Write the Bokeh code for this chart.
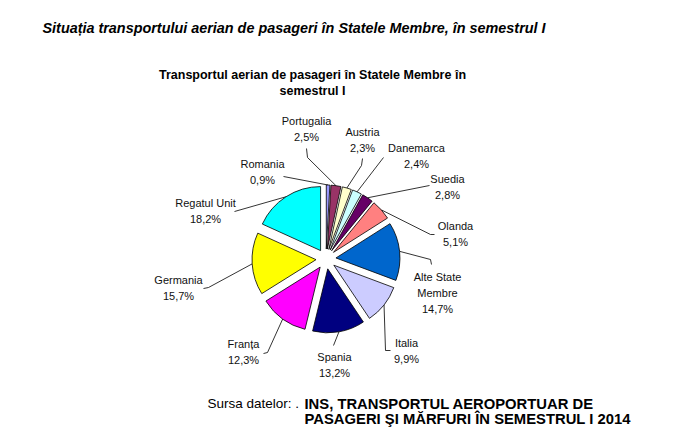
import math
from bokeh.plotting import figure
from bokeh.models import Range1d, ColumnDataSource
from bokeh.core.properties import value
from bokeh.embed import file_html
from bokeh.resources import INLINE

# ---- data ----
countries = ["Romania", "Portugalia", "Austria", "Danemarca", "Suedia", "Olanda",
             "Alte State Membre", "Italia", "Spania", "Franța", "Germania", "Regatul Unit"]
shares = [0.9, 2.5, 2.3, 2.4, 2.8, 5.1, 14.7, 9.9, 13.2, 12.3, 15.7, 18.2]
colors = ["#9999FF", "#993366", "#FFFFCC", "#CCFFFF", "#660066", "#FF8080",
          "#0066CC", "#CCCCFF", "#000080", "#FF00FF", "#FFFF00", "#00FFFF"]

main_title = "Situația transportului aerian de pasageri în Statele Membre, în semestrul I"
chart_title = ["Transportul aerian de pasageri în Statele Membre în", "semestrul I"]
source_label = "Sursa datelor: ."
source_text = ["INS, TRANSPORTUL AEROPORTUAR DE", "PASAGERI ŞI MĂRFURI ÎN SEMESTRUL I 2014"]

# ---- layout (screen pixel coordinates) ----
W, H = 670, 427
FONT = "Liberation Sans"

def sy(y):
    return 443 - y

cx, cy = 325.5, sy(258.5)
R = 64
EXPLODE = 10

name_lines = {"Alte State Membre": ["Alte State", "Membre"]}
label_pos = {
    "Romania": (262, 163), "Portugalia": (306, 120), "Austria": (362, 131),
    "Danemarca": (416, 147), "Suedia": (447, 178), "Olanda": (455, 225),
    "Alte State Membre": (437, 276), "Italia": (406, 342), "Spania": (334, 356),
    "Franța": (243, 343), "Germania": (178, 279), "Regatul Unit": (205, 202),
}
leader_pts = {
    "Romania": [(283, 176)],
    "Portugalia": [(307, 157), (306, 148)],
    "Austria": [(361, 165), (362, 158)],
    "Danemarca": [(383, 157)],
    "Suedia": [(429, 185)],
    "Olanda": [(430, 234), (434, 234)],
    "Alte State Membre": [(430, 259), (431, 264)],
    "Italia": [(385, 350), (390, 350)],
    "Spania": [(333, 345)],
    "Franța": [(267, 352), (263, 353)],
    "Germania": [(208, 287), (203, 288)],
    "Regatul Unit": [(234, 211)],
}

p = figure(width=W, height=H, output_backend="svg", toolbar_location=None,
           x_range=Range1d(0, W), y_range=Range1d(443 - H, 443),
           min_border=0, outline_line_color=None)
p.axis.visible = False
p.grid.visible = False
p.background_fill_color = "white"

total = sum(shares)
starts, ends, xs, ys, mids = [], [], [], [], []
cum = 0.0
for v in shares:
    a0 = math.pi / 2 - 2 * math.pi * cum / total
    cum += v
    a1 = math.pi / 2 - 2 * math.pi * cum / total
    m = (a0 + a1) / 2
    starts.append(a1)
    ends.append(a0)
    mids.append(m)
    xs.append(cx + EXPLODE * math.cos(m))
    ys.append(cy + EXPLODE * math.sin(m))

# leader lines (beneath wedges)
lx, ly = [], []
for name, m in zip(countries, mids):
    sx0 = cx + (R + EXPLODE) * math.cos(m)
    sy0 = cy + (R + EXPLODE) * math.sin(m)
    pts = leader_pts[name]
    lx.append([sx0] + [q[0] for q in pts])
    ly.append([sy0] + [sy(q[1]) for q in pts])
p.multi_line(lx, ly, line_color="black", line_width=0.8)

src = ColumnDataSource(dict(x=xs, y=ys, start=starts, end=ends, color=colors, name=countries))
p.wedge(x="x", y="y", radius=R, start_angle="start", end_angle="end",
        fill_color="color", line_color="black", line_width=0.8, source=src)

# slice labels
tx, ty, tt = [], [], []
for name, v in zip(countries, shares):
    x0, y0 = label_pos[name]
    lines = name_lines.get(name, [name]) + [f"{v:.1f}".replace(".", ",") + "%"]
    for i, ln in enumerate(lines):
        tx.append(x0)
        ty.append(sy(y0 + 16 * i))
        tt.append(ln)
p.text(tx, ty, text=tt, text_font=value(FONT), text_font_size="11px",
       text_align="center", text_baseline="middle", text_color="#111111")

# titles
p.text([42], [sy(27)], text=[main_title], text_font=value(FONT), text_font_size="14.4px",
       text_font_style="bold italic", text_align="left", text_baseline="middle")
p.text([312, 312], [sy(74), sy(90)], text=chart_title, text_font=value(FONT),
       text_font_size="12.5px", text_font_style="bold", text_align="center",
       text_baseline="middle")
p.text([207], [sy(403)], text=[source_label], text_font=value(FONT), text_font_size="13.5px",
       text_align="left", text_baseline="middle")
p.text([304, 304], [sy(403), sy(418)], text=source_text, text_font=value(FONT),
       text_font_size="14.8px", text_font_style="bold", text_align="left",
       text_baseline="middle")

open("out.html", "w").write(file_html(p, INLINE))
